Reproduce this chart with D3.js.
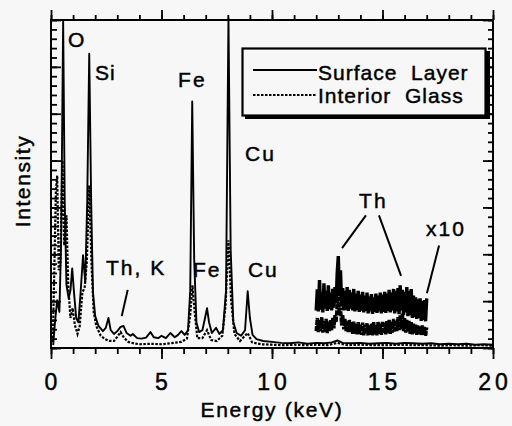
<!DOCTYPE html>
<html>
<head>
<meta charset="utf-8">
<script src="https://cdn.jsdelivr.net/npm/d3@7/dist/d3.min.js"></script>
<style>
  html, body { margin: 0; padding: 0; background: #f7f7f7; }
  svg { display: block; }
  text { font-family: "Liberation Sans", Arial, Helvetica, sans-serif; fill: #000; stroke: #000; stroke-width: 0.45px; }
</style>
</head>
<body>
<svg id="chart" width="512" height="426"></svg>
<script>
// EDS spectra: surface layer vs. interior glass (energy in keV, intensity in arbitrary units)
const surfaceEnergy = [0.10,0.18,0.28,0.38,0.46,0.55,0.62,0.70,0.80,0.88,0.96,1.04,1.14,1.24,1.34,1.45,1.55,1.64,1.73,1.82,1.90,2.00,2.15,2.35,2.48,2.60,2.70,2.85,3.00,3.15,3.28,3.42,3.60,3.70,3.90,4.10,4.30,4.50,4.65,4.85,5.00,5.20,5.40,5.60,5.75,5.90,6.05,6.20,6.30,6.39,6.48,6.58,6.70,6.85,6.97,7.06,7.15,7.28,7.47,7.62,7.78,7.92,8.03,8.13,8.25,8.40,8.60,8.78,8.90,9.00,9.12,9.30,9.60,10.0,10.4,10.8,11.2,11.6,12.0,12.4,12.7,12.97,13.2,13.6,14.0,14.4,14.8,15.2,15.6,16.0,16.4,16.8,17.2,17.6,18.0,18.4,18.8,19.2,19.6,20.0];
const surfaceCounts = [0.06,0.55,1.02,0.77,2.30,6.98,3.15,1.34,1.06,1.23,1.70,1.19,0.64,0.55,1.19,1.98,1.40,3.15,6.28,3.04,1.19,0.68,0.47,0.36,0.43,0.64,0.38,0.30,0.36,0.45,0.47,0.32,0.26,0.30,0.21,0.20,0.22,0.34,0.23,0.21,0.26,0.21,0.32,0.23,0.28,0.36,0.28,0.38,1.23,5.26,1.87,0.55,0.34,0.38,0.64,0.85,0.55,0.32,0.43,0.30,0.38,1.23,7.04,2.09,0.55,0.32,0.26,0.38,1.21,0.64,0.28,0.19,0.15,0.13,0.11,0.10,0.12,0.09,0.11,0.10,0.12,0.16,0.11,0.10,0.11,0.09,0.10,0.11,0.09,0.11,0.10,0.09,0.10,0.08,0.09,0.08,0.09,0.07,0.08,0.07];

const interiorEnergy = [0.08,0.15,0.22,0.28,0.35,0.42,0.52,0.60,0.70,0.78,0.88,0.98,1.08,1.20,1.30,1.42,1.52,1.62,1.73,1.83,1.93,2.05,2.25,2.45,2.65,2.85,3.00,3.15,3.30,3.50,3.75,4.00,4.50,5.00,5.40,5.90,6.15,6.30,6.40,6.50,6.62,6.85,7.06,7.25,7.50,7.75,7.90,8.03,8.15,8.30,8.55,8.90,9.10,9.50,10.0,10.5,11.0,11.5,12.0,12.5,12.97,13.4,14.0,14.6,15.2,15.8,16.4,17.0,17.6,18.2,18.8,19.4,20.0];
const interiorCounts = [0.13,1.66,3.36,3.68,1.66,1.77,4.00,2.19,2.83,1.34,0.64,0.85,0.49,0.30,0.47,1.19,1.28,1.83,3.47,1.83,0.77,0.47,0.26,0.19,0.15,0.15,0.24,0.34,0.22,0.13,0.10,0.08,0.09,0.08,0.10,0.13,0.20,0.70,1.34,0.77,0.21,0.21,0.38,0.17,0.15,0.26,0.91,2.30,1.02,0.30,0.15,0.32,0.12,0.08,0.07,0.06,0.07,0.06,0.07,0.06,0.11,0.06,0.07,0.06,0.06,0.07,0.06,0.06,0.05,0.06,0.05,0.06,0.05];

// Magnified (x10) region, 12-17 keV, one value per 0.05 keV channel
const x10Start = 12.0;
const x10Channel = 0.05;
const surfaceX10 = [0.80,1.25,0.78,1.45,0.82,1.20,0.76,1.38,0.84,1.22,0.79,1.34,0.83,1.18,0.80,1.26,0.86,1.30,0.95,1.60,1.96,1.10,1.66,0.88,1.28,0.80,1.22,0.82,1.30,0.79,1.24,0.84,1.18,0.80,1.26,0.78,1.16,0.81,1.22,0.77,1.14,0.80,1.20,0.76,1.12,0.79,1.18,0.74,1.10,0.78,1.15,0.73,1.08,0.77,1.16,0.75,1.12,0.78,1.18,0.74,1.14,0.77,1.20,0.75,1.16,0.79,1.24,0.76,1.18,0.80,1.26,0.74,1.22,0.78,1.28,0.72,1.34,0.80,1.24,0.70,1.20,0.76,1.30,0.68,1.22,0.70,1.26,0.64,1.12,0.66,1.08,0.62,1.04,0.64,1.06,0.58,1.00,0.60,1.02,0.57,1.06];
const interiorX10 = [0.36,0.64,0.34,0.60,0.36,0.66,0.33,0.58,0.35,0.62,0.32,0.56,0.36,0.60,0.38,0.64,0.42,0.70,0.55,0.92,1.09,0.70,0.86,0.48,0.70,0.40,0.62,0.36,0.58,0.33,0.60,0.34,0.55,0.30,0.56,0.31,0.52,0.29,0.55,0.30,0.50,0.28,0.54,0.27,0.50,0.30,0.53,0.26,0.48,0.28,0.52,0.27,0.55,0.29,0.50,0.27,0.56,0.30,0.52,0.28,0.57,0.31,0.54,0.29,0.58,0.32,0.60,0.30,0.56,0.33,0.62,0.34,0.60,0.36,0.66,0.38,0.70,0.40,0.74,0.36,0.64,0.33,0.60,0.35,0.58,0.30,0.55,0.29,0.52,0.31,0.50,0.28,0.48,0.30,0.46,0.27,0.48,0.28,0.45,0.26,0.44];

const xTickLabels = [0, 5, 10, 15, 20];
const seriesNames = ["Surface  Layer", "Interior  Glass"];

// Peak labels: [text, energy, intensity]
const peakLabels = [["O",0.77,6.42],["Si",1.99,5.72],["Fe",5.75,5.57],["Cu",8.78,4.00],["Th",13.94,2.99],["x10",16.97,2.39],["Th, K",2.49,1.56],["Fe",6.42,1.51],["Cu",8.91,1.51]];
// Leader lines: [e1, v1, e2, v2]
const leaders = [[3.47,1.24,3.20,0.68],[14.25,2.83,13.17,2.13],[14.84,2.83,15.84,1.54],[17.56,2.19,17.01,1.17]];

const svg = d3.select("#chart");
const L = 51, R = 493, T = 20, B = 348;
const x = d3.scaleLinear().domain([0, 20]).range([L, R]);
const y = d3.scaleLinear().domain([0, 7]).range([B, T]);

const line = d3.line().x(d => x(d[0])).y(d => y(d[1]));

// axes: minor and major ticks on all four sides
function ticks(axisFn, pos, values, size) {
  const g = svg.append("g").attr("transform", pos)
    .call(axisFn.tickValues(values).tickSize(size).tickSizeOuter(0).tickFormat(""));
  g.select(".domain").remove();
  g.selectAll("line").attr("stroke", "#000").attr("stroke-width", 1.8);
  return g;
}
const xMinor = d3.range(0, 21, 1), xMajor = d3.range(0, 21, 5);
const yMinor = d3.range(0, 7.001, 0.2).map(v => +v.toFixed(2)), yMajor = d3.range(0, 8, 1);
ticks(d3.axisBottom(x), `translate(0,${B})`, xMinor, 6);
ticks(d3.axisBottom(x), `translate(0,${B})`, xMajor, 11);
ticks(d3.axisTop(x), `translate(0,${T})`, xMinor, 5);
ticks(d3.axisTop(x), `translate(0,${T})`, xMajor, 10);
ticks(d3.axisRight(y), `translate(${L},0)`, yMinor, 6);
ticks(d3.axisRight(y), `translate(${L},0)`, yMajor, 10);
ticks(d3.axisLeft(y), `translate(${R},0)`, yMinor, 5);
ticks(d3.axisLeft(y), `translate(${R},0)`, yMajor, 10);

svg.append("rect").attr("x", L).attr("y", T).attr("width", R - L).attr("height", B - T)
  .attr("fill", "none").attr("stroke", "#000").attr("stroke-width", 2);

// x tick labels
svg.append("g").selectAll("text").data(xTickLabels).join("text")
  .attr("x", d => x(d) + (d >= 10 ? 2 : 0)).attr("y", 390)
  .attr("text-anchor", "middle").attr("font-size", 23)
  .attr("letter-spacing", d => d >= 10 ? 4 : 0)
  .text(d => d);

svg.append("text").attr("x", 272).attr("y", 417).attr("text-anchor", "middle")
  .attr("font-size", 21).attr("letter-spacing", 1.7).text("Energy (keV)");
svg.append("text").attr("transform", "translate(30,181) rotate(-90)").attr("text-anchor", "middle")
  .attr("font-size", 21).attr("letter-spacing", 1.6).text("Intensity");

// spectra
const plot = svg.append("g");
plot.append("path").datum(d3.zip(interiorEnergy, interiorCounts)).attr("d", line)
  .attr("fill", "none").attr("stroke", "#000").attr("stroke-width", 2.2).attr("stroke-dasharray", "2.5,1.5");
plot.append("path").datum(d3.zip(surfaceEnergy, surfaceCounts)).attr("d", line)
  .attr("fill", "none").attr("stroke", "#000").attr("stroke-width", 1.9).attr("stroke-linejoin", "round");

const x10E = surfaceX10.map((_, i) => x10Start + i * x10Channel);
plot.append("path").datum(d3.zip(x10E, interiorX10)).attr("d", line)
  .attr("fill", "none").attr("stroke", "#000").attr("stroke-width", 3.4).attr("stroke-dasharray", "5,1");
plot.append("path").datum(d3.zip(x10E, surfaceX10)).attr("d", line)
  .attr("fill", "none").attr("stroke", "#000").attr("stroke-width", 3.4);

// labels and leader lines
svg.append("g").selectAll("text").data(peakLabels).join("text")
  .attr("x", d => x(d[1])).attr("y", d => y(d[2]))
  .attr("font-size", 21).attr("letter-spacing", d => d[0] === "Si" ? 1 : 2)
  .text(d => d[0]);
svg.append("g").selectAll("line").data(leaders).join("line")
  .attr("x1", d => x(d[0])).attr("y1", d => y(d[1]))
  .attr("x2", d => x(d[2])).attr("y2", d => y(d[3]))
  .attr("stroke", "#000").attr("stroke-width", 2);

// legend
const lg = svg.append("g");
lg.append("rect").attr("x", 245).attr("y", 51).attr("width", 245).attr("height", 68).attr("fill", "#000");
lg.append("rect").attr("x", 242.5).attr("y", 48.5).attr("width", 243).attr("height", 67)
  .attr("fill", "#f7f7f7").attr("stroke", "#000").attr("stroke-width", 2.2);
const legendRows = [{y: 70, dash: null}, {y: 95, dash: "2.5,1.5"}];
legendRows.forEach((r, i) => {
  lg.append("line").attr("x1", 253).attr("x2", 317).attr("y1", r.y).attr("y2", r.y)
    .attr("stroke", "#000").attr("stroke-width", i ? 2.2 : 1.9).attr("stroke-dasharray", r.dash);
  lg.append("text").attr("x", 318).attr("y", r.y + 10 - i * 1.7).attr("font-size", 21)
    .attr("letter-spacing", 1).style("white-space", "pre").text(seriesNames[i]);
});
</script>
</body>
</html>
